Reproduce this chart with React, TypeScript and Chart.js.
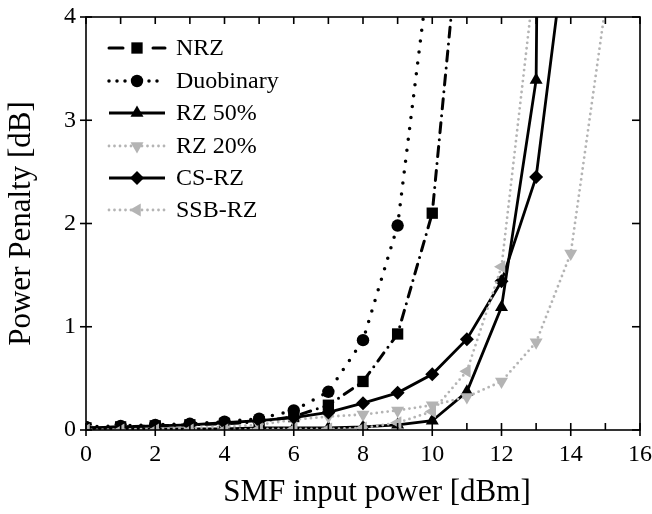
import React, { useEffect, useRef } from "react";
import { Chart, registerables } from "chart.js";

Chart.register(...registerables);

const power = [0, 1, 2, 3, 4, 5, 6, 7, 8, 9, 10, 11, 12, 13, 14, 15];

const nrz = [0.02, 0.03, 0.04, 0.05, 0.06, 0.08, 0.13, 0.24, 0.47, 0.93, 2.1, 5.6];
const duobinary = [0.03, 0.04, 0.05, 0.06, 0.08, 0.11, 0.19, 0.37, 0.87, 1.98, 4.7];
const rz50 = [0.01, 0.01, 0.01, 0.01, 0.01, 0.02, 0.02, 0.02, 0.03, 0.05, 0.09, 0.37, 1.19, 3.39, 40];
const rz20 = [0.01, 0.01, 0.01, 0.02, 0.03, 0.05, 0.1, 0.13, 0.15, 0.19, 0.24, 0.32, 0.47, 0.85, 1.71, 4.1];
const csrz = [0.02, 0.03, 0.04, 0.05, 0.07, 0.09, 0.12, 0.17, 0.26, 0.36, 0.54, 0.88, 1.44, 2.45, 5.1];
const ssbrz = [0, 0, 0, 0, 0, 0.01, 0.01, 0.01, 0.02, 0.07, 0.18, 0.57, 1.58, 4.5];

const seriesNames = ["NRZ", "Duobinary", "RZ 50%", "RZ 20%", "CS-RZ", "SSB-RZ"];
const xTitle = "SMF input power [dBm]";
const yTitle = "Power Penalty [dB]";

const FONT = "'Liberation Serif', 'Times New Roman', serif";
const GRAY = "#b4b4b4";

const toPoints = (vals: number[]) => vals.map((v, i) => ({ x: power[i], y: v }));

type Marker = { style: string; radius: number; rotation: number };

function drawMarker(ctx: CanvasRenderingContext2D, m: Marker, x: number, y: number, color: string) {
  ctx.save();
  ctx.fillStyle = color;
  ctx.strokeStyle = color;
  ctx.setLineDash([]);
  ctx.beginPath();
  const r = m.radius;
  const rad = (m.rotation * Math.PI) / 180;
  if (m.style === "circle") {
    ctx.arc(x, y, r, 0, Math.PI * 2);
  } else if (m.style === "rect") {
    const s = Math.SQRT1_2 * r;
    ctx.rect(x - s, y - s, 2 * s, 2 * s);
  } else if (m.style === "rectRot") {
    ctx.moveTo(x - r, y);
    ctx.lineTo(x, y - r);
    ctx.lineTo(x + r, y);
    ctx.lineTo(x, y + r);
    ctx.closePath();
  } else if (m.style === "triangle") {
    let a = rad;
    ctx.moveTo(x + Math.sin(a) * r, y - Math.cos(a) * r);
    a += (2 * Math.PI) / 3;
    ctx.lineTo(x + Math.sin(a) * r, y - Math.cos(a) * r);
    a += (2 * Math.PI) / 3;
    ctx.lineTo(x + Math.sin(a) * r, y - Math.cos(a) * r);
    ctx.closePath();
  }
  ctx.fill();
  ctx.restore();
}

const framePlugin = {
  id: "frame",
  afterDraw(chart: any) {
    const { ctx, chartArea: a, scales } = chart;
    const xs = scales.x;
    const ys = scales.y;
    ctx.save();
    ctx.strokeStyle = "#000";
    ctx.lineWidth = 1.6;
    ctx.setLineDash([]);
    ctx.strokeRect(a.left, a.top, a.right - a.left, a.bottom - a.top);
    const seg = (x1: number, y1: number, x2: number, y2: number) => {
      ctx.beginPath();
      ctx.moveTo(x1, y1);
      ctx.lineTo(x2, y2);
      ctx.stroke();
    };
    for (let v = 0; v <= 16; v += 1) {
      const px = xs.getPixelForValue(v);
      const major = v % 2 === 0;
      seg(px, a.bottom - 7, px, a.bottom + (major ? 6 : 0));
      seg(px, a.top, px, a.top + 7);
    }
    for (let v = 0; v <= 4; v += 1) {
      const py = ys.getPixelForValue(v);
      seg(a.left - 6, py, a.left + 6, py);
      seg(a.right - 8, py, a.right, py);
    }
    // axis titles
    ctx.fillStyle = "#000";
    ctx.font = `31px ${FONT}`;
    ctx.textAlign = "center";
    ctx.textBaseline = "middle";
    ctx.fillText(xTitle, 377, 493);
    ctx.save();
    ctx.translate(22, (a.top + a.bottom) / 2);
    ctx.rotate(-Math.PI / 2);
    ctx.fillText(yTitle, 0, 0);
    ctx.restore();

    // legend
    const rows = [48, 81, 113, 146, 178, 210];
    chart.data.datasets.forEach((ds: any, i: number) => {
      const y = rows[i];
      ctx.save();
      ctx.strokeStyle = ds.borderColor;
      ctx.lineWidth = ds.borderWidth;
      ctx.lineCap = ds.borderCapStyle || "butt";
      ctx.setLineDash(ds.legendDash || ds.borderDash || []);
      ctx.beginPath();
      ctx.moveTo(109, y);
      ctx.lineTo(165, y);
      ctx.stroke();
      ctx.restore();
      drawMarker(ctx, { style: ds.pointStyle, radius: ds.pointRadius, rotation: ds.pointRotation || 0 }, 137, y, ds.pointBackgroundColor);
      ctx.fillStyle = "#000";
      ctx.font = `24px ${FONT}`;
      ctx.textAlign = "left";
      ctx.textBaseline = "middle";
      ctx.fillText(ds.label, 176, y + 1);
    });
    ctx.restore();
  },
};

export default function App() {
  const ref = useRef<HTMLCanvasElement | null>(null);
  useEffect(() => {
    if (!ref.current) return;
    const mk = (
      label: string,
      vals: number[],
      color: string,
      dash: number[],
      width: number,
      cap: string,
      style: string,
      radius: number,
      rotation: number,
      order: number,
      legendDash?: number[]
    ) => ({
      label,
      data: toPoints(vals),
      borderColor: color,
      backgroundColor: color,
      pointBackgroundColor: color,
      pointBorderColor: color,
      pointBorderWidth: 0,
      borderWidth: width,
      borderDash: dash,
      borderCapStyle: cap,
      pointStyle: style,
      pointRadius: radius,
      pointRotation: rotation,
      tension: 0,
      order,
      legendDash,
    });
    const chart = new Chart(ref.current, {
      type: "line",
      data: {
        datasets: [
          mk(seriesNames[0], nrz, "#000", [10, 7, 0, 7], 3, "round", "rect", 8, 0, 6, [14, 30]),
          mk(seriesNames[1], duobinary, "#000", [0, 11], 3.5, "round", "circle", 6.2, 0, 5, [0, 8]),
          mk(seriesNames[2], rz50, "#000", [], 2.8, "butt", "triangle", 7.5, 0, 4),
          mk(seriesNames[3], rz20, GRAY, [0, 5.5], 2.8, "round", "triangle", 7.5, 180, 3),
          mk(seriesNames[4], csrz, "#000", [], 2.8, "butt", "rectRot", 7, 0, 2),
          mk(seriesNames[5], ssbrz, GRAY, [0, 5.5], 2.8, "round", "triangle", 7.5, 270, 1),
        ] as any,
      },
      options: {
        animation: false,
        responsive: true,
        maintainAspectRatio: false,
        layout: { padding: { left: 0, top: 17, right: 12, bottom: 0 } },
        plugins: { legend: { display: false }, tooltip: { enabled: false } },
        scales: {
          x: {
            type: "linear",
            min: 0,
            max: 16,
            grid: { display: false, drawTicks: false },
            border: { display: false },
            ticks: { stepSize: 2, color: "#000", font: { family: FONT, size: 24 }, padding: 10, maxRotation: 0 },
            afterFit: (s: any) => {
              s.height = 84;
              s.paddingLeft = 0;
              s.paddingRight = 0;
            },
          },
          y: {
            type: "linear",
            min: 0,
            max: 4,
            grid: { display: false, drawTicks: false },
            border: { display: false },
            ticks: { stepSize: 1, color: "#000", font: { family: FONT, size: 24 }, padding: 10 },
            afterFit: (s: any) => {
              s.width = 86;
              s.paddingTop = 0;
              s.paddingBottom = 0;
            },
          },
        },
      } as any,
      plugins: [framePlugin],
    });
    return () => chart.destroy();
  }, []);
  return (
    <div style={{ position: "fixed", left: 0, top: 0, width: 652, height: 514, background: "#fff" }}>
      <canvas ref={ref} />
    </div>
  );
}
